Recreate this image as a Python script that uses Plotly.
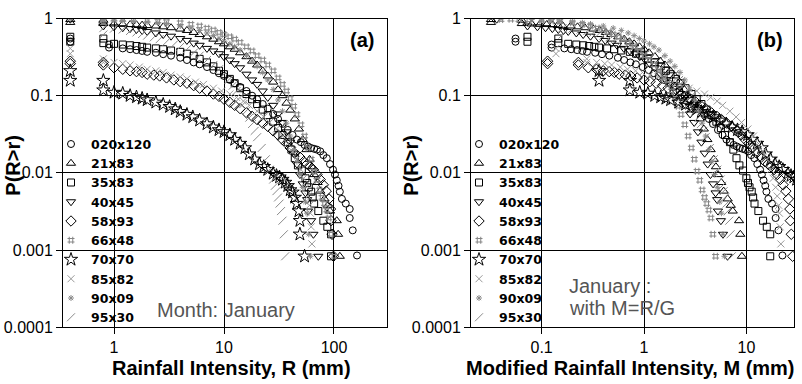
import plotly.graph_objects as go

# ---------------- data (panel a: rainfall intensity R in mm, exceedance probability P) -------------
station_names = ["020x120", "21x83", "35x83", "40x45", "58x93", "66x48", "70x70", "85x82", "90x09", "95x30"]

# station scaling factor G (panel b uses M = R / G)
scale_G = [7.2, 12.5, 5.5, 11.0, 3.5, 20.0, 1.1, 2.9, 10.0, 5.0]

s020x120 = [(0.4,0.55),(0.4,0.5),(0.9,0.46),(0.9,0.42),(1.2,0.41),(1.4,0.40),(1.6,0.39),(1.8,0.38),(2.0,0.37),
            (2.4,0.36),(2.8,0.345),(3.3,0.33),(4.0,0.31),(4.6,0.29),(5.3,0.27),(6.0,0.255),(7.0,0.235),(8.0,0.215),
            (9.0,0.195),(10,0.18),(11.3,0.16),(12.5,0.145),(14,0.13),(16,0.115),(18,0.1),(20,0.09),(22.5,0.078),
            (25,0.068),(28,0.058),(31,0.05),(34,0.043),(38,0.036),(42,0.031),(46,0.027),(50,0.025),(54,0.023),
            (58,0.022),(62,0.021),(66,0.0205),(70,0.020),(75,0.019),(80,0.017),(86,0.0155),(92,0.013),(98,0.011),
            (102,0.0095),(106,0.008),(110,0.0068),(113,0.0057),(118,0.0046),(128,0.0040),(139,0.0034),
            (139,0.0026),(148,0.0018),(162,0.00085)]

s21x83 = [(0.4,0.97),(0.4,0.89),(0.8,0.95),(0.8,0.86),(1.0,0.85),(1.2,0.84),(1.4,0.835),(1.6,0.83),(1.8,0.82),
          (2.0,0.81),(2.4,0.8),(2.8,0.78),(3.3,0.76),(4.0,0.73),(4.6,0.7),(5.3,0.66),(6,0.62),(7,0.58),(8,0.54),
          (9,0.5),(10,0.47),(11.3,0.43),(12.5,0.4),(14,0.36),(16,0.32),(18,0.28),(20,0.25),(22.5,0.21),(25,0.18),
          (28,0.15),(31,0.12),(34,0.1),(37,0.08),(40,0.065),(44,0.05),(48,0.037),(52,0.027),(56,0.02),(60,0.015),
          (63,0.012),(66,0.0095),(71,0.0075),(75,0.0058),(82,0.0046),(88,0.0038),(92,0.0032),(106,0.0024),
          (109,0.0016),(113,0.00083)]

s35x83 = [(0.4,0.58),(0.4,0.5),(0.8,0.55),(0.8,0.48),(1.0,0.47),(1.2,0.46),(1.4,0.45),(1.6,0.44),(1.8,0.43),
          (2.0,0.42),(2.4,0.41),(2.8,0.4),(3.3,0.385),(4.0,0.37),(4.6,0.35),(5.3,0.33),(6,0.3),(7,0.27),(8,0.24),
          (9,0.21),(10,0.19),(11.3,0.165),(12.5,0.145),(14,0.125),(16,0.105),(18,0.09),(20,0.078),(22.5,0.066),
          (25,0.056),(28,0.046),(31,0.038),(34,0.031),(38,0.025),(41,0.02),(44,0.0155),(47,0.0125),(51,0.0107),
          (55,0.0085),(57,0.0074),(59,0.0065),(62,0.0057),(64,0.0048),(66,0.004),(72,0.0032),(80,0.0024),
          (87,0.002),(94,0.0016),(94,0.00083)]

s40x45 = [(0.4,0.98),(0.8,0.8),(1.0,0.78),(1.2,0.76),(1.4,0.74),(1.6,0.72),(1.8,0.7),(2.0,0.68),(2.4,0.65),
          (2.8,0.62),(3.3,0.59),(4.0,0.55),(4.6,0.52),(5.3,0.48),(6,0.45),(7,0.41),(8,0.38),(9,0.35),(10,0.32),
          (11.3,0.29),(12.5,0.26),(14,0.23),(16,0.19),(18,0.16),(20,0.14),(22.5,0.115),(25,0.095),(28,0.075),
          (31,0.058),(34,0.045),(37,0.034),(40,0.025),(43,0.018),(46,0.013),(49,0.0095),(52,0.0072),(55,0.0055),
          (57,0.0045),(58,0.0032),(62,0.0024),(65,0.0016),(72,0.00083)]

s58x93 = [(0.4,0.28),(0.4,0.26),(0.8,0.27),(0.8,0.25),(1.0,0.23),(1.2,0.22),(1.4,0.21),(1.6,0.205),(1.8,0.2),
          (2.0,0.19),(2.3,0.185),(2.6,0.18),(3.0,0.17),(3.5,0.16),(4.0,0.152),(4.6,0.145),(5.3,0.135),(6,0.125),
          (7,0.115),(8,0.105),(9,0.098),(10,0.09),(11.3,0.082),(12.5,0.075),(14,0.068),(16,0.06),(18,0.054),
          (20,0.049),(22.5,0.044),(25,0.04),(28,0.035),(31,0.031),(34,0.027),(37,0.024),(40,0.021),(44,0.018),
          (49,0.016),(53,0.014),(57,0.013),(61,0.012),(65,0.011),(70,0.0095),(75,0.0082),(80,0.007),(85,0.0058),
          (90,0.0046),(93,0.0034),(94,0.0024),(96,0.0016),(99,0.00083)]

s66x48 = [(0.8,0.97),(1.0,0.98),(1.2,0.97),(1.5,0.96),(2,0.95),(2.5,0.93),(3,0.91),(4,0.88),(5,0.84),(6,0.8),
          (7,0.75),(8,0.71),(9,0.66),(10,0.62),(11.3,0.58),(12.5,0.54),(14,0.49),(16,0.43),(18,0.38),(20,0.33),
          (22.5,0.29),(25,0.25),(28,0.21),(31,0.17),(34,0.14),(37,0.115),(40,0.092),(43,0.073),(46,0.057),
          (50,0.042),(54,0.03),(58,0.021),(62,0.015),(66,0.0105),(70,0.008),(74,0.006),(78,0.0048),(82,0.004),
          (86,0.0033),(90,0.0026),(94,0.0016),(100,0.00083)]

s70x70 = [(0.4,0.21),(0.4,0.157),(0.8,0.157),(0.8,0.118),(1.0,0.11),(1.2,0.107),(1.4,0.1),(1.6,0.096),
          (1.8,0.092),(2.0,0.088),(2.4,0.082),(2.8,0.077),(3.2,0.072),(3.6,0.067),(4.0,0.062),(4.6,0.057),
          (5.2,0.053),(6,0.048),(7,0.043),(8,0.039),(9,0.036),(10,0.034),(11.3,0.031),(12.5,0.027),(14,0.024),
          (15.5,0.021),(17,0.0175),(19,0.015),(21,0.013),(23,0.012),(25,0.011),(28,0.0098),(30,0.0092),
          (32,0.0088),(34,0.0082),(36,0.0075),(38,0.0068),(40,0.006),(42,0.0056),(44,0.0048),(46,0.004),
          (48,0.0032),(49,0.0024),(49,0.0016),(54,0.00083)]

s85x82 = [(0.4,0.41),(0.4,0.35),(0.8,0.3),(0.8,0.27),(1.0,0.27),(1.2,0.26),(1.4,0.25),(1.7,0.235),(2,0.22),
          (2.4,0.21),(2.8,0.2),(3.3,0.185),(4,0.175),(4.6,0.165),(5.5,0.15),(6.5,0.14),(8,0.125),(9.5,0.115),
          (11.3,0.105),(13,0.095),(15,0.085),(17,0.075),(20,0.063),(23,0.053),(26,0.045),(30,0.037),(34,0.03),
          (38,0.024),(42,0.019),(46,0.015),(50,0.011),(53,0.0085),(56,0.0065),(58,0.005),(60,0.0038),(61,0.003),
          (62,0.002),(63,0.0012)]

s90x09 = [(0.4,0.99),(0.8,0.97),(1.0,0.95),(1.2,0.94),(1.5,0.92),(2,0.9),(2.5,0.88),(3,0.85),(4,0.8),(5,0.75),
          (6,0.7),(7,0.65),(8,0.6),(9,0.55),(10,0.51),(11.3,0.47),(12.5,0.43),(14,0.39),(16,0.33),(18,0.28),
          (20,0.24),(22.5,0.2),(25,0.16),(28,0.12),(31,0.088),(34,0.063),(37,0.044),(40,0.03),(43,0.02),
          (46,0.014),(49,0.0095),(52,0.0065),(55,0.0042),(57,0.003),(59,0.0016),(61,0.00083)]

s95x30 = [(0.8,0.97),(0.8,0.75),(0.8,0.62),(1.0,0.74),(1.2,0.72),(1.4,0.69),(1.6,0.66),(1.8,0.63),(2,0.6),
          (2.3,0.57),(2.6,0.54),(3,0.5),(3.5,0.46),(4,0.43),(4.6,0.4),(5.3,0.36),(6,0.33),(7,0.29),(8,0.25),
          (9,0.22),(10,0.19),(11,0.16),(12,0.135),(13,0.115),(14,0.095),(15,0.078),(16,0.064),(17,0.052),
          (18,0.043),(19,0.035),(20,0.029),(22,0.021),(24,0.015),(26,0.011),(28,0.0082),(29,0.0068),(30,0.0058),
          (31,0.0048),(32,0.004),(33,0.0032),(34,0.0024),(35,0.0016),(36,0.00083)]

station_data = [s020x120, s21x83, s35x83, s40x45, s58x93, s66x48, s70x70, s85x82, s90x09, s95x30]

# tick labels
y_tickvals = [1, 0.1, 0.01, 0.001, 0.0001]
y_ticktext = ["1", "0.1", "0.01", "0.001", "0.0001"]
xa_tickvals = [1, 10, 100]
xa_ticktext = ["1", "10", "100"]
xb_tickvals = [0.1, 1, 10]
xb_ticktext = ["0.1", "1", "10"]

# ---------------- styles ----------------
BLACK = "#000000"
styles = [
    dict(symbol="circle-open", color=BLACK, size=7),
    dict(symbol="triangle-up-open", color=BLACK, size=8),
    dict(symbol="square-open", color=BLACK, size=7),
    dict(symbol="triangle-down-open", color=BLACK, size=8),
    dict(symbol="diamond-open", color=BLACK, size=8),
    dict(symbol="hash-open", color="#858585", size=7),
    dict(symbol="star-open", color=BLACK, size=10),
    dict(symbol="x-thin-open", color="#9a9a9a", size=7),
    dict(symbol="asterisk-open", color="#8a8a8a", size=5),
    dict(symbol="line-ne-open", color="#8a8a8a", size=8),
]

fig = go.Figure()
for name, pts, st, g in zip(station_names, station_data, styles, scale_G):
    R = [p[0] for p in pts]
    P = [p[1] for p in pts]
    M = [r / g for r in R]
    mk = dict(symbol=st["symbol"], size=st["size"], color=st["color"],
              line=dict(color=st["color"], width=1))
    fig.add_trace(go.Scatter(x=R, y=P, mode="markers", name=name, marker=mk,
                             xaxis="x", yaxis="y", legend="legend"))
    fig.add_trace(go.Scatter(x=M, y=P, mode="markers", name=name, marker=mk,
                             xaxis="x2", yaxis="y2", legend="legend2"))

W, H = 802, 384
def px(x):
    return x / W
def py(y):
    return 1 - y / H

tick_font = dict(family="Liberation Sans, Arial, sans-serif", size=16, color="black")
axis_common = dict(type="log", showgrid=True, gridcolor="black", gridwidth=1, showline=True,
                   linecolor="black", linewidth=1, mirror=True, ticks="outside", ticklen=6,
                   tickcolor="black", tickfont=tick_font, zeroline=False)

leg_font = dict(family="DejaVu Sans, sans-serif", size=12.5, color="black", weight="bold")

fig.update_layout(
    width=W, height=H, margin=dict(l=0, r=0, t=0, b=0),
    paper_bgcolor="white", plot_bgcolor="white",
    xaxis=dict(axis_common, domain=[px(63), px(387)], range=[-0.464, 2.482], anchor="y",
               tickvals=xa_tickvals, ticktext=xa_ticktext),
    yaxis=dict(axis_common, domain=[py(334), py(11)], range=[-4, 0], anchor="x",
               tickvals=y_tickvals, ticktext=y_ticktext),
    xaxis2=dict(axis_common, domain=[px(471), px(794)], range=[-1.69, 1.465], anchor="y2",
                tickvals=xb_tickvals, ticktext=xb_ticktext),
    yaxis2=dict(axis_common, domain=[py(334), py(11)], range=[-4, 0], anchor="x2",
                tickvals=y_tickvals, ticktext=y_ticktext),
    legend=dict(x=px(51), y=py(127), xanchor="left", yanchor="top", bgcolor="rgba(0,0,0,0)",
                font=leg_font, tracegroupgap=0, borderwidth=0),
    legend2=dict(x=px(459), y=py(127), xanchor="left", yanchor="top", bgcolor="rgba(0,0,0,0)",
                 font=leg_font, tracegroupgap=0, borderwidth=0),
    showlegend=True,
)

title_font = dict(family="Liberation Sans, Arial, sans-serif", size=20, color="black", weight="bold")
note_font = dict(family="Liberation Sans, Arial, sans-serif", size=20, color="#555555")
ann = [
    dict(text="(a)", x=px(362), y=py(33), font=title_font),
    dict(text="(b)", x=px(770), y=py(33), font=title_font),
    dict(text="Month: January", x=px(226), y=py(316), font=note_font),
    dict(text="January :", x=px(567), y=py(291), xanchor="left", font=note_font),
    dict(text="with M=R/G", x=px(567), y=py(314), xanchor="left", font=note_font),
    dict(text="P(R>r)", x=px(13), y=py(165), textangle=-90, font=title_font),
    dict(text="P(R>r)", x=px(411), y=py(165), textangle=-90, font=title_font),
    dict(text="Rainfall Intensity, R (mm)", x=px(231), y=py(377), font=title_font),
    dict(text="Modified Rainfall Intensity, M (mm)", x=px(630), y=py(377), font=title_font),
]
for a in ann:
    a.setdefault("xanchor", "center")
    fig.add_annotation(xref="paper", yref="paper", showarrow=False, yanchor="middle", **a)

fig.write_html("out.html")
